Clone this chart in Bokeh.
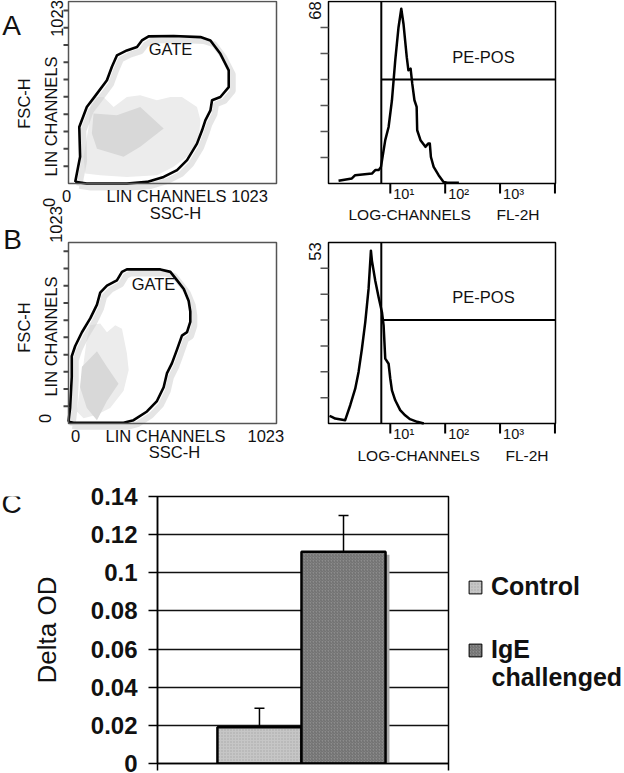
import numpy as np
from bokeh.plotting import figure
from bokeh.layouts import column, row
from bokeh.models import (FixedTicker, Label, Whisker, ColumnDataSource, Range1d,
                          Legend, LegendItem, TeeHead, NumeralTickFormatter)
from bokeh.embed import file_html
from bokeh.resources import INLINE

# ---------------- data ----------------
gate_a_ssc = [33, 57, 53, 90, 140, 189, 213, 238, 287, 337, 361, 394, 517, 649, 698, 747, 788, 788,
              747, 706, 698, 673, 657, 632, 583, 534, 468, 386, 287, 90, 33]
gate_a_fsc = [9, 150, 318, 430, 505, 580, 655, 720, 748, 767, 804, 827, 829, 823, 804, 729, 636, 542,
              486, 468, 411, 355, 299, 224, 131, 75, 37, 9, 0, 0, 9]
cloud_a_ssc = [123, 172, 222, 287, 353, 435, 501, 558, 632, 649, 640, 583, 517, 435, 287, 156, 82, 74, 99, 107]
cloud_a_fsc = [486, 486, 430, 486, 496, 468, 486, 486, 430, 355, 243, 150, 94, 47, 37, 47, 56, 150, 318, 430]
core_a_ssc = [123, 238, 353, 468, 353, 271, 140, 115]
core_a_fsc = [393, 383, 430, 309, 206, 150, 196, 281]

gate_b_ssc = [0, 8, 16, 16, 33, 66, 107, 140, 156, 189, 238, 263, 287, 452, 501, 534, 567, 591, 599, 599,
              583, 558, 534, 509, 484, 468, 435, 386, 320, 271, 25, 0]
gate_b_fsc = [10, 88, 263, 380, 438, 516, 594, 672, 740, 779, 809, 857, 871, 871, 857, 809, 760, 692, 633, 575,
              516, 497, 419, 341, 283, 205, 127, 68, 19, 4, 4, 10]
cloud_b_ssc = [107, 156, 189, 230, 263, 287, 296, 271, 205, 140, 74, 41, 57, 74, 90]
cloud_b_fsc = [555, 565, 516, 555, 536, 399, 302, 185, 88, 49, 29, 68, 205, 341, 477]
core_b_ssc = [66, 140, 189, 246, 189, 140, 90, 57]
core_b_fsc = [321, 409, 321, 224, 127, 19, 88, 205]

hist_a_log = [0.057, 0.30, 0.36, 0.665, 0.726, 0.787, 0.83, 0.908, 0.969, 1.03, 1.09, 1.15, 1.20, 1.24,
              1.30, 1.33, 1.37, 1.40, 1.44, 1.48, 1.49, 1.55, 1.64, 1.69, 1.72, 1.74, 1.79, 1.88, 1.97,
              2.04, 2.25]
hist_a_cnt = [1.0, 1.9, 3.1, 3.7, 5.0, 5.0, 6.2, 16.2, 21.1, 31.1, 46.0, 58.4, 65.3, 59.7, 47.2, 42.3,
              42.9, 37.3, 31.1, 28.6, 19.9, 16.2, 13.7, 14.9, 14.9, 9.9, 6.2, 3.1, 0.6, 0.25, 0.25]
hist_b_log = [-0.108, -0.065, -0.004, 0.178, 0.27, 0.361, 0.422, 0.483, 0.544, 0.604, 0.647, 0.665, 0.726,
              0.787, 0.848, 0.878, 0.908, 0.969, 1.0, 1.03, 1.09, 1.18, 1.27, 1.36, 1.49, 1.61]
hist_b_cnt = [2.24, 1.95, 1.46, 0.97, 5.35, 10.2, 15.1, 21.9, 29.7, 39.4, 50.6, 47.7, 41.8, 37.0, 32.6,
              28.7, 19.0, 17.5, 13.1, 9.7, 6.8, 3.9, 2.4, 1.26, 0.49, 0.0]
hist_a_max = 68
hist_b_max = 53
pe_gate_log = 0.836
pe_pos_level_a = 38.9
pe_pos_level_b = 30.3
log_ticks = [10, 100, 1000, 10000]
log_tick_labels = ["10\u00b9", "10\u00b2", "10\u00b3"]
lin_max = 1023
lin_ticks = [97, 195, 292, 389, 487, 584, 681, 778, 876, 973]

categories = ["Control", "IgE challenged"]
legend_first_lines = ["Control", "IgE"]
legend_second_line = "challenged"
delta_od = [0.019, 0.111]
delta_od_err = [0.010, 0.019]
od_ticks = [0, 0.02, 0.04, 0.06, 0.08, 0.1, 0.12, 0.14]

# ---------------- layout helpers ----------------
FONT = "Liberation Sans"
X_LOG_START, X_LOG_END = -0.126, 4.01
PAGE_W = 624
TOP_H = 470
LEFT_W = 306
RIGHT_W = PAGE_W - LEFT_W
C_H = 773 - TOP_H
R90 = np.pi / 2
FS = "16.5px"


def hspan(p0, p1, d0, d1, size):
    k = (d1 - d0) / (p1 - p0)
    return d0 - p0 * k, d1 + (size - p1) * k, k


def vspan(top, bot, d0, d1, size):
    k = (d1 - d0) / (bot - top)
    return d0 - (size - bot) * k, d1 + top * k, k


class Canvas:
    """A figure whose frame fills its whole canvas; positions given in page pixels."""
    def __init__(self, ox, oy, w, h, box_x, box_y, xd, yd, xlog=False):
        self.ox, self.oy, self.xlog, self.h = ox, oy, xlog, h
        xs, xe, self.kx = hspan(box_x[0] - ox, box_x[1] - ox, xd[0], xd[1], w)
        ys, ye, self.ky = vspan(box_y[0] - oy, box_y[1] - oy, yd[0], yd[1], h)
        self.xs, self.ye = xs, ye
        xr = (10 ** xs, 10 ** xe) if xlog else (xs, xe)
        self.p = figure(width=w, height=h, x_range=xr, y_range=(ys, ye),
                        x_axis_type="log" if xlog else "linear",
                        x_axis_location=None, y_axis_location=None, min_border=0,
                        toolbar_location=None, output_backend="svg")
        self.p.grid.visible = False
        self.p.outline_line_color = None

    def add_y_range(self, name, box_y, yd):
        ys, ye, k = vspan(box_y[0] - self.oy, box_y[1] - self.oy, yd[0], yd[1], self.h)
        self.p.extra_y_ranges[name] = Range1d(ys, ye)
        return k

    def xd(self, px):
        v = self.xs + (px - self.ox) * self.kx
        return float(10 ** v) if self.xlog else float(v)

    def yd(self, py):
        return float(self.ye - (py - self.oy) * self.ky)

    def text(self, px, py, s, size=FS, align="center", angle=0.0, style="normal"):
        self.p.add_layout(Label(x=self.xd(px), y=self.yd(py), text=s, text_font=FONT,
                                text_font_size=size, text_align=align, text_baseline="middle",
                                angle=angle, text_font_style=style, text_color="#111111"))


def draw_flow(c, rname, ky, gate, cloud, core):
    p = c.p
    kw = {} if rname is None else {"y_range_name": rname}
    p.patch(cloud[0], cloud[1], fill_color="#ececec", line_color=None, **kw)
    p.patch(core[0], core[1], fill_color="#d8d8d8", line_color=None, **kw)
    gx = np.array(gate[0], dtype=float)
    gy = np.array(gate[1], dtype=float)
    p.line(gx + 4 * c.kx, gy - 4 * ky, line_color="#cfcfcf", line_width=6, line_alpha=0.55, **kw)
    p.line(gx, gy, line_color="black", line_width=2.6, line_join="round", **kw)
    p.quad(left=[0], right=[lin_max], bottom=[0], top=[lin_max], fill_color=None,
           line_color="#555555", line_width=1.5, **kw)
    tl = 5 * c.kx
    p.segment(x0=[-tl] * len(lin_ticks), x1=[0] * len(lin_ticks), y0=lin_ticks, y1=lin_ticks,
              line_color="#444444", line_width=2, **kw)


def draw_hist(c, rname, ky, ymax, lx, cnt, level):
    p = c.p
    kw = {} if rname is None else {"y_range_name": rname}
    xl, xr = 10 ** X_LOG_START, 10 ** X_LOG_END
    p.quad(left=[xl], right=[xr], bottom=[0], top=[ymax], fill_color=None,
           line_color="black", line_width=1.5, **kw)
    p.line(10 ** np.array(lx), cnt, line_color="black", line_width=2.5, line_join="round", **kw)
    gate_x = 10 ** pe_gate_log
    p.segment(x0=[gate_x, gate_x], y0=[0, level], x1=[gate_x, xr], y1=[ymax, level],
              line_color="black", line_width=2, **kw)
    yt = [ymax * k / 7 for k in range(1, 7)]
    xt0 = 10 ** (X_LOG_START - 8 * c.kx)
    p.segment(x0=[xt0] * len(yt), x1=[xl] * len(yt), y0=yt, y1=yt,
              line_color="#555555", line_width=1.5, **kw)
    p.segment(x0=log_ticks, x1=log_ticks, y0=[0] * len(log_ticks), y1=[-10 * ky] * len(log_ticks),
              line_color="black", line_width=2, **kw)


# ---------------- left column (A and B scatter) ----------------
L = Canvas(0, 0, LEFT_W, TOP_H, (68, 276), (1, 183), (0, lin_max), (0, lin_max))
kyb = L.add_y_range("b", (242, 423), (0, lin_max))
draw_flow(L, None, L.ky, (gate_a_ssc, gate_a_fsc), (cloud_a_ssc, cloud_a_fsc), (core_a_ssc, core_a_fsc))
draw_flow(L, "b", kyb, (gate_b_ssc, gate_b_fsc), (cloud_b_ssc, cloud_b_fsc), (core_b_ssc, core_b_fsc))
L.text(11, 25, "A", size="28px")
L.text(56, 18, "1023", angle=R90)
L.text(50, 116, "LIN CHANNELS", angle=R90)
L.text(23.5, 103, "FSC-H", angle=R90)
L.text(48, 202, "0", angle=R90)
L.text(66, 195, "0")
L.text(106, 195, "LIN CHANNELS 1023", align="left")
L.text(175, 212, "SSC-H")
L.text(170, 48, "GATE")
L.text(12, 239, "B", size="28px")
L.text(55, 224, "1023", angle=R90)
L.text(50, 336, "LIN CHANNELS", angle=R90)
L.text(23, 327, "FSC-H", angle=R90)
L.text(44, 418, "0", angle=R90)
L.text(75, 435, "0")
L.text(105, 435, "LIN CHANNELS", align="left")
L.text(247, 435, "1023", align="left")
L.text(174, 451, "SSC-H")
L.text(153, 283, "GATE")

# ---------------- right column (A and B histograms) ----------------
R = Canvas(LEFT_W, 0, RIGHT_W, TOP_H, (328, 555), (1, 183), (X_LOG_START, X_LOG_END),
           (0, hist_a_max), xlog=True)
kyhb = R.add_y_range("b", (242, 423), (0, hist_b_max))
draw_hist(R, None, R.ky, hist_a_max, hist_a_log, hist_a_cnt, pe_pos_level_a)
draw_hist(R, "b", kyhb, hist_b_max, hist_b_log, hist_b_cnt, pe_pos_level_b)
R.text(314, 10, str(hist_a_max), angle=R90)
R.text(483, 56, "PE-POS")
R.text(314, 251, str(hist_b_max), angle=R90)
R.text(483, 296, "PE-POS")
for py in (193, 433):
    for t, lab in zip(log_ticks, log_tick_labels):
        R.p.add_layout(Label(x=t, y=R.yd(py), x_offset=3, text=lab, text_font=FONT,
                             text_font_size="14.5px", text_align="left", text_baseline="middle",
                             text_color="#111111"))
R.text(348, 214, "LOG-CHANNELS", size="15.5px", align="left")
R.text(496, 214, "FL-2H", size="15.5px", align="left")
R.text(357, 455, "LOG-CHANNELS", size="15.5px", align="left")
R.text(505, 455, "FL-2H", size="15.5px", align="left")

# ---------------- Panel C (bar chart) ----------------
C_LW = 28          # strip holding the panel letter
C_RX = 458         # right edge of the bar chart figure
C_X0, C_X1 = -1.713, 1.749
FR_L, FR_T, FR_R, FR_B = 152, 496, 448, 763

letter = Canvas(0, TOP_H, C_LW, C_H, (0, C_LW), (TOP_H, TOP_H + C_H), (0, 1), (0, 1))
letter.text(11, 478, "C", size="28px")

pc = figure(width=C_RX - C_LW, height=C_H, x_range=(C_X0, C_X1), y_range=(0, 0.14),
            toolbar_location=None, output_backend="svg",
            min_border_left=FR_L - C_LW, min_border_top=FR_T - TOP_H,
            min_border_right=C_RX - FR_R, min_border_bottom=TOP_H + C_H - FR_B)
fw, fh = FR_R - FR_L, FR_B - FR_T
bar_x = [i - 0.5 for i in range(len(categories))]
shadow_dx = 4 * (C_X1 - C_X0) / fw
shadow_dy = 3 * 0.14 / fh
fills = ["#c6c6c6", "#8c8c8c"]
hatches = [".", "/"]
hatch_cols = ["#9a9a9a", "#5e5e5e"]
src = ColumnDataSource(dict(x=bar_x, top=delta_od,
                            upper=[v + e for v, e in zip(delta_od, delta_od_err)],
                            sx=[x + shadow_dx for x in bar_x],
                            stop=[v - shadow_dy for v in delta_od]))
pc.vbar(x="sx", top="stop", width=1, source=src, fill_color="#a9a9a9", line_color=None)
for i in range(len(categories)):
    pc.vbar(x=[bar_x[i]], top=[delta_od[i]], width=1, fill_color=fills[i],
            hatch_pattern=hatches[i], hatch_color=hatch_cols[i], hatch_scale=3, hatch_weight=1,
            hatch_alpha=0.7, line_color="black", line_width=2.5)
pc.add_layout(Whisker(base="x", upper="upper", lower="top", source=src, line_color="black",
                      line_width=1.5, upper_head=TeeHead(size=10, line_width=1.5, line_color="black"),
                      lower_head=None))
pc.ygrid.visible = True
pc.ygrid.ticker = FixedTicker(ticks=od_ticks)
pc.ygrid.grid_line_color = "#111111"
pc.ygrid.grid_line_width = 1.3
pc.xgrid.visible = False
ay = pc.yaxis[0]
ay.ticker = FixedTicker(ticks=od_ticks)
ay.formatter = NumeralTickFormatter(format="0.[00]")
ay.major_tick_out = 9
ay.major_tick_in = 0
ay.minor_tick_line_color = None
ay.major_tick_line_width = 1.5
ay.axis_line_width = 1.5
ay.major_label_text_font = FONT
ay.major_label_text_font_style = "bold"
ay.major_label_text_font_size = "24px"
ay.major_label_text_color = "#111111"
ay.major_label_standoff = 11
ay.axis_label = "Delta OD"
ay.axis_label_text_font = FONT
ay.axis_label_text_font_style = "normal"
ay.axis_label_text_font_size = "26px"
ay.axis_label_text_color = "#111111"
ay.axis_label_standoff = 26
ax = pc.xaxis[0]
ax.ticker = FixedTicker(ticks=[C_X0, C_X1])
ax.major_tick_out = 7
ax.major_tick_in = 0
ax.minor_tick_line_color = None
ax.major_tick_line_width = 1.5
ax.axis_line_width = 1.5
ax.major_label_overrides = {C_X0: "", C_X1: ""}
ax.major_label_text_font_size = "1px"
ax.major_label_standoff = 0
pc.outline_line_color = "black"
pc.outline_line_width = 1.5

# legend strip (its renderers carry the bar data but are hidden; only the legend shows)
lg = Canvas(C_RX, TOP_H, PAGE_W - C_RX, C_H, (C_RX, PAGE_W), (TOP_H, TOP_H + C_H), (0, 1), (0, 1))
items = []
for i in range(len(categories)):
    r = lg.p.vbar(x=[bar_x[i]], top=[delta_od[i]], width=1, fill_color=fills[i],
                  hatch_pattern=hatches[i], hatch_color=hatch_cols[i], hatch_scale=3, hatch_weight=1,
                  hatch_alpha=0.7, line_color="black", line_width=1, visible=False)
    items.append(LegendItem(label=legend_first_lines[i], renderers=[r]))
legend = Legend(items=items, location=(9, 99), orientation="vertical", glyph_width=16, glyph_height=16,
                label_standoff=8, spacing=34, padding=0, margin=0, border_line_color=None,
                background_fill_alpha=0, inactive_fill_alpha=0, label_text_font=FONT,
                label_text_font_style="bold", label_text_font_size="25px", label_text_line_height=1.0,
                label_text_color="#111111")
lg.p.add_layout(legend)
lg.text(491, 675, legend_second_line, size="25px", align="left", style="bold")

layout = column(row(L.p, R.p), row(letter.p, pc, lg.p))
open("out.html", "w").write(file_html(layout, INLINE))
